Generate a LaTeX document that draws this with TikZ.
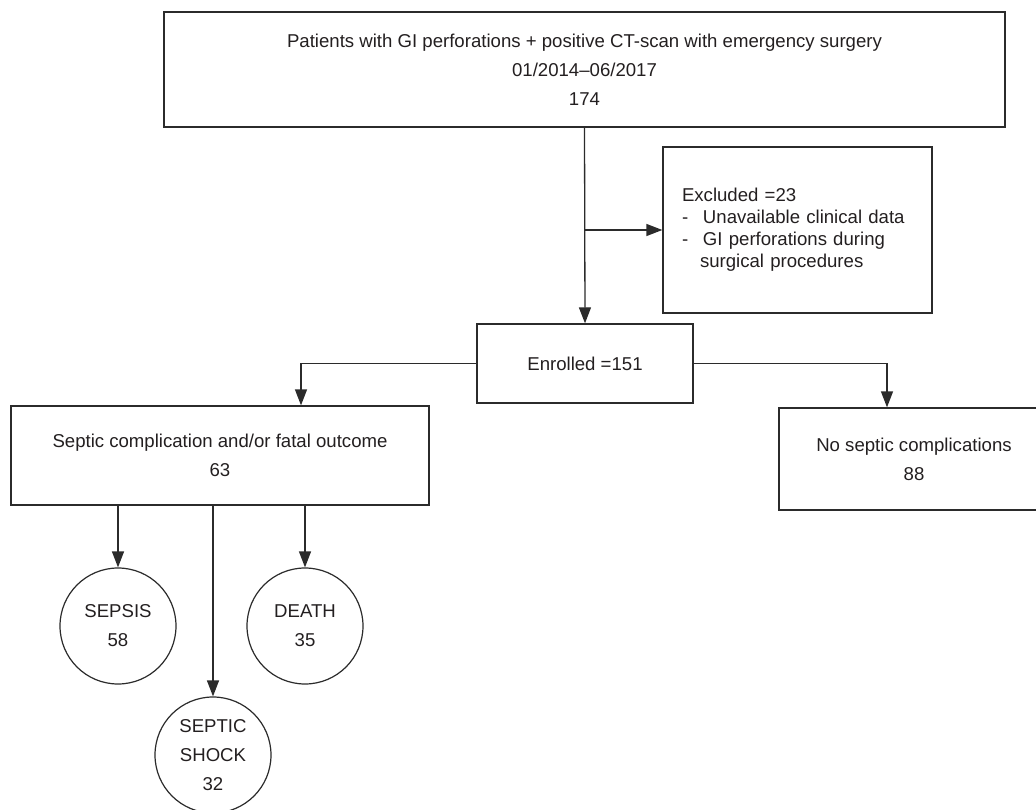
\documentclass[tikz,border=0pt]{standalone}
\usepackage{fontspec}
\setmainfont{Liberation Sans}
\usetikzlibrary{arrows.meta}
\definecolor{ink}{HTML}{2B2B2B}
\definecolor{txt}{HTML}{231F20}
\tikzset{
  boxstyle/.style={draw=ink, line width=1.3pt, rectangle, inner sep=0pt, align=center,
    text=txt, font=\fontsize{18.6}{29}\selectfont},
  circstyle/.style={draw=ink, line width=1.2pt, circle, minimum size=116pt, inner sep=0pt,
    align=center, text=txt, font=\fontsize{18.6}{29}\selectfont},
  arr/.style={draw=ink, line width=1.3pt, -{Triangle[length=16pt,width=12pt]}},
  ln/.style={draw=ink, line width=1.3pt}
}
\begin{document}
\begin{tikzpicture}[x=1pt,y=-1pt]
\useasboundingbox (0,0) rectangle (1036,810);
\node[boxstyle, minimum width=841pt, minimum height=115pt] (top) at (584.5,69.5)
  {Patients with GI perforations + positive CT-scan with emergency surgery\\01/2014--06/2017\\174};
\node[boxstyle, minimum width=269pt, minimum height=166pt, text width=231pt, align=left,
  font=\fontsize{18.6}{22}\selectfont] (exc) at (797.5,230)
  {Excluded =23\\-\hspace{14.8pt}Unavailable clinical data\\-\hspace{14.8pt}GI perforations during\\\hspace{18pt}surgical procedures};
\node[boxstyle, minimum width=216pt, minimum height=79pt] (enr) at (585,363.5) {Enrolled =151};
\node[boxstyle, minimum width=418pt, minimum height=99pt] (sep) at (220,455.5)
  {Septic complication and/or fatal outcome\\63};
\node[boxstyle, minimum width=270pt, minimum height=102pt] (nos) at (914,459)
  {No septic complications\\88};
\node[circstyle] (sepsis) at (118,626) {SEPSIS\\58};
\node[circstyle] (death) at (305,626) {DEATH\\35};
\node[circstyle] (shock) at (213,755) {SEPTIC\\SHOCK\\32};
\coordinate (exj) at (585,230);
\draw[arr] (top.south) -- (enr.north);
\draw[arr] (exj) -- (exc.west);
\draw[arr] (enr.west) -| ([xshift=81pt]sep.north);
\draw[arr] (enr.east) -| ([xshift=-27pt]nos.north);
\draw[arr] (sepsis.north |- sep.south) -- (sepsis.north);
\draw[arr] (death.north |- sep.south) -- (death.north);
\draw[arr] (shock.north |- sep.south) -- (shock.north);
\end{tikzpicture}
\end{document}
